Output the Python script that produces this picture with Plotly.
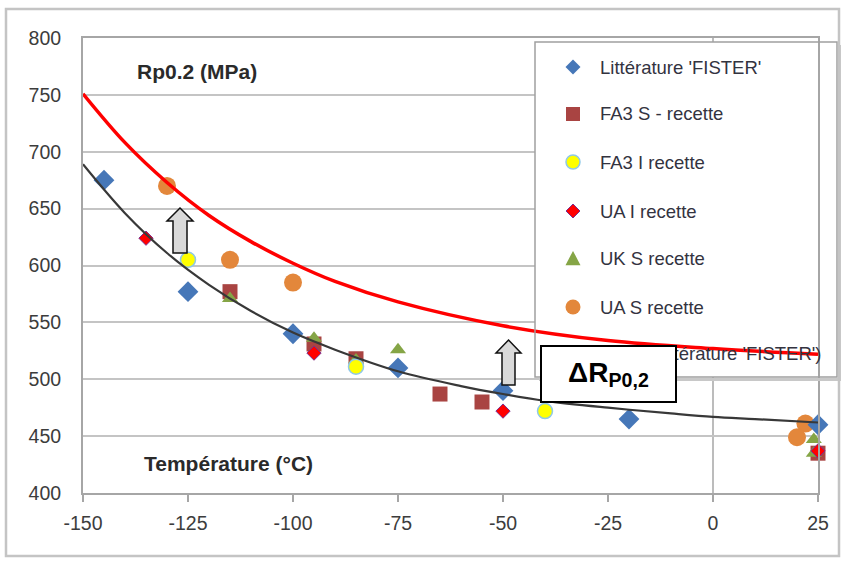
import plotly.graph_objects as go

# ---------------- data ----------------
lit_x = [-145, -125, -100, -75, -50, -20, 25]
lit_y = [675, 577, 540, 510, 490, 465, 460]

fa3s_x = [-115, -95, -85, -65, -55, 25]
fa3s_y = [577, 531, 518, 487, 480, 435]

fa3i_x = [-125, -85, -40]
fa3i_y = [605, 511, 472]

uai_x = [-135, -95, -50, 25]
uai_y = [624, 523, 472, 437]

uks_x = [-115, -95, -85, -75, 24, 24]
uks_y = [571, 536, 517, 526, 447, 435]

uas_x = [-130, -115, -100, 22, 20]
uas_y = [670, 605, 585, 461, 449]

# trend line of 'FISTER' data
trend_x = [-150, -140, -130, -120, -110, -100, -90, -75, -60, -50, -40, -25, -10, 0, 10, 25]
trend_y = [689, 646, 611, 583, 560, 541, 526, 507, 494, 487, 481, 475, 470, 467, 465, 462]

# red curve
red_x = [-150, -140, -130, -120, -110, -100, -90, -75, -50, -25, 0, 25]
red_y = [751, 708, 673, 644, 621, 602, 586, 568, 547, 534, 527, 522]

x_ticks = [-150, -125, -100, -75, -50, -25, 0, 25]
y_ticks = [400, 450, 500, 550, 600, 650, 700, 750, 800]

legend_names = ["Littérature 'FISTER'", "FA3 S - recette", "FA3 I recette",
                "UA I recette", "UK S recette", "UA S recette"]
trend_name = "Poly. (Littérature 'FISTER')"

# ---------------- styles ----------------
C_BLUE = "#4677b8"
C_SQ = "#a94442"
C_YEL = "#ffff00"
C_RD = "#ff0000"
C_GRN = "#85a546"
C_ORG = "#e3873b"
TXT = "#33333f"
FONT = "Liberation Sans, Arial, sans-serif"

W, H = 844, 562
L, R, T, B = 83, 818, 38, 493


def PX(x):
    return (x - L) / (R - L)


def PY(y):
    return (B - y) / (B - T)


fig = go.Figure()

fig.add_trace(go.Scatter(x=uas_x, y=uas_y, mode="markers", name=legend_names[5],
                         marker=dict(symbol="circle", size=18, color=C_ORG, line=dict(width=0)),
                         cliponaxis=False))
fig.add_trace(go.Scatter(x=fa3s_x, y=fa3s_y, mode="markers", name=legend_names[1],
                         marker=dict(symbol="square", size=15, color=C_SQ, line=dict(width=0)),
                         cliponaxis=False))
fig.add_trace(go.Scatter(x=uks_x, y=uks_y, mode="markers", name=legend_names[4],
                         marker=dict(symbol="triangle-up", size=14, color=C_GRN, line=dict(width=0)),
                         cliponaxis=False))
fig.add_trace(go.Scatter(x=fa3i_x, y=fa3i_y, mode="markers", name=legend_names[2],
                         marker=dict(symbol="circle", size=15, color=C_YEL,
                                     line=dict(width=1.5, color="#8fc8e8")),
                         cliponaxis=False))
fig.add_trace(go.Scatter(x=uai_x, y=uai_y, mode="markers", name=legend_names[3],
                         marker=dict(symbol="diamond", size=11, color=C_RD,
                                     line=dict(width=1, color="#7a2f8f")),
                         cliponaxis=False))
fig.add_trace(go.Scatter(x=lit_x, y=lit_y, mode="markers", name=legend_names[0],
                         marker=dict(symbol="diamond", size=16, color=C_BLUE, line=dict(width=0)),
                         cliponaxis=False))
fig.add_trace(go.Scatter(x=trend_x, y=trend_y, mode="lines", name=trend_name,
                         line=dict(color="#383838", width=2.2, shape="spline", smoothing=1.0)))
fig.add_trace(go.Scatter(x=red_x, y=red_y, mode="lines", name="red",
                         line=dict(color="#ff0000", width=3.5, shape="spline", smoothing=1.0)))

shapes = []
# vertical line at x = 0 (Excel vertical axis)
shapes.append(dict(type="line", xref="x", yref="y", x0=0, x1=0, y0=400, y1=800,
                   line=dict(color="#a6a6a6", width=1.5), layer="below"))
# legend box fill (above gridlines, below data)
shapes.append(dict(type="rect", xref="x", yref="y",
                   x0=-150 + (535 - L) * 175 / (R - L), x1=30,
                   y0=800 - (377 - T) * 400 / (B - T), y1=800 - (42 - T) * 400 / (B - T),
                   fillcolor="white", line=dict(width=0), layer="between"))
# legend box shadow + outline
shapes.append(dict(type="path", xref="paper", yref="paper",
                   path=f"M{PX(539)},{PY(379.5)} L{PX(839.5)},{PY(379.5)} L{PX(839.5)},{PY(45)}",
                   line=dict(color="#c8c8c8", width=3), layer="above"))
shapes.append(dict(type="rect", xref="paper", yref="paper",
                   x0=PX(535), x1=PX(837), y0=PY(377), y1=PY(42),
                   line=dict(color="#a0a0a0", width=1.5), layer="above"))


def diamond(cx, cy, h, color, lc=None, lw=0):
    p = f"M{PX(cx-h)},{PY(cy)} L{PX(cx)},{PY(cy-h)} L{PX(cx+h)},{PY(cy)} L{PX(cx)},{PY(cy+h)} Z"
    return dict(type="path", xref="paper", yref="paper", path=p, fillcolor=color,
                line=dict(color=lc or color, width=lw), layer="above")


def square(cx, cy, h, color):
    return dict(type="rect", xref="paper", yref="paper", x0=PX(cx-h), x1=PX(cx+h),
                y0=PY(cy+h), y1=PY(cy-h), fillcolor=color, line=dict(width=0), layer="above")


def circle(cx, cy, r, color, lc=None, lw=0):
    return dict(type="circle", xref="paper", yref="paper", x0=PX(cx-r), x1=PX(cx+r),
                y0=PY(cy+r), y1=PY(cy-r), fillcolor=color,
                line=dict(color=lc or color, width=lw), layer="above")


def triangle(cx, cy, h, color):
    p = f"M{PX(cx-h)},{PY(cy+h*0.95)} L{PX(cx+h)},{PY(cy+h*0.95)} L{PX(cx)},{PY(cy-h*0.95)} Z"
    return dict(type="path", xref="paper", yref="paper", path=p, fillcolor=color,
                line=dict(width=0), layer="above")


SX = 573
rows = [67, 114, 162, 211, 258, 307, 353]
shapes.append(diamond(SX, rows[0], 7.5, C_BLUE))
shapes.append(square(SX, rows[1], 7, C_SQ))
shapes.append(circle(SX, rows[2], 7, C_YEL, "#8fc8e8", 1.5))
shapes.append(diamond(SX, rows[3], 7, C_RD, "#7a2f8f", 1))
shapes.append(triangle(SX, rows[4], 7.5, C_GRN))
shapes.append(circle(SX, rows[5], 7.5, C_ORG))


def up_arrow(tip_x, tip_y, head_half, head_base, shaft_half, bottom):
    p = (f"M{PX(tip_x)},{PY(tip_y)} L{PX(tip_x+head_half)},{PY(head_base)} "
         f"L{PX(tip_x+shaft_half)},{PY(head_base)} L{PX(tip_x+shaft_half)},{PY(bottom)} "
         f"L{PX(tip_x-shaft_half)},{PY(bottom)} L{PX(tip_x-shaft_half)},{PY(head_base)} "
         f"L{PX(tip_x-head_half)},{PY(head_base)} Z")
    return dict(type="path", xref="paper", yref="paper", path=p, fillcolor="#d9d9d9",
                line=dict(color="#111111", width=1.5), layer="above")


shapes.append(up_arrow(180, 208, 13, 221, 7, 253))
shapes.append(up_arrow(508.5, 340, 12.5, 353, 6.5, 385))

# outer chart border
shapes.append(dict(type="rect", xref="paper", yref="paper",
                   x0=PX(6), x1=PX(839), y0=PY(556), y1=PY(9),
                   line=dict(color="#c4c4c4", width=2.5), layer="above"))

annotations = []
annotations.append(dict(xref="paper", yref="paper", x=PX(135), y=PY(72), xanchor="left",
                        yanchor="middle", showarrow=False, text="<b>Rp0.2 (MPa)</b>",
                        font=dict(family=FONT, size=21, color="#2a2a2a")))
annotations.append(dict(xref="paper", yref="paper", x=PX(142), y=PY(463), xanchor="left",
                        yanchor="middle", showarrow=False, text="<b>Température (°C)</b>",
                        font=dict(family=FONT, size=21, color="#2a2a2a")))
for name, ry in zip(legend_names, rows[:6]):
    annotations.append(dict(xref="paper", yref="paper", x=PX(598), y=PY(ry), xanchor="left",
                            yanchor="middle", showarrow=False, text=name,
                            font=dict(family=FONT, size=18.5, color=TXT)))
annotations.append(dict(xref="paper", yref="paper", x=PX(824), y=PY(rows[6]), xanchor="right",
                        yanchor="middle", showarrow=False, text=trend_name,
                        font=dict(family=FONT, size=18.5, color=TXT)))
annotations.append(dict(xref="paper", yref="paper", x=PX(608.5), y=PY(374), xanchor="center",
                        yanchor="middle", showarrow=False,
                        text="<b>ΔR<sub>P0,2</sub></b>",
                        font=dict(family=FONT, size=28, color="black"),
                        bgcolor="white", bordercolor="black", borderwidth=2, borderpad=0,
                        width=133, height=54))

fig.update_layout(
    width=W, height=H,
    margin=dict(l=L, r=W - R, t=T, b=H - B, pad=0),
    paper_bgcolor="white", plot_bgcolor="white",
    showlegend=False,
    shapes=shapes, annotations=annotations,
    font=dict(family=FONT, color="#404040"),
)
fig.update_xaxes(range=[-150, 25], tickmode="array", tickvals=x_ticks,
                 ticktext=[str(v) for v in x_ticks], showgrid=False, zeroline=False,
                 showline=True, linecolor="#a6a6a6", linewidth=2, mirror=True,
                 ticks="outside", ticklen=7, tickcolor="#a6a6a6", tickwidth=1.5,
                 ticklabelstandoff=5,
                 tickfont=dict(family=FONT, size=19.5, color="#3c3c3c"))
fig.update_yaxes(range=[400, 800], tickmode="array", tickvals=y_ticks,
                 ticktext=[str(v) for v in y_ticks], showgrid=True, gridcolor="#c4c4c4",
                 gridwidth=1.5, zeroline=False,
                 showline=True, linecolor="#a6a6a6", linewidth=2, mirror=True,
                 ticks="", ticklabelstandoff=16,
                 tickfont=dict(family=FONT, size=19.5, color="#3c3c3c"))

fig.write_html("out.html", post_script="document.body.style.margin='0px';",
               config={"displayModeBar": False})
